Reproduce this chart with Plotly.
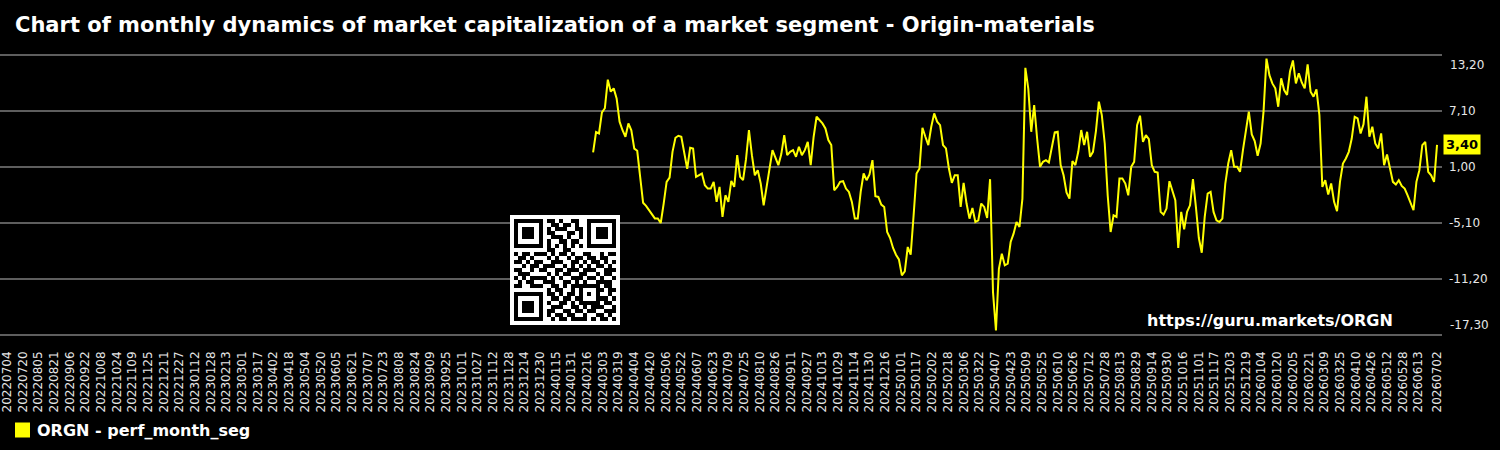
import base64
import pandas as pd
import plotly.graph_objects as go

# ---------------- data ----------------
title_text = "Chart of monthly dynamics of market capitalization of a market segment - Origin-materials"
series_name = "ORGN - perf_month_seg"
watermark = "https://guru.markets/ORGN"
last_label = "3,40"

axis_start = "2022-07-04"
axis_end = "2026-07-02"
series_start = "2024-02-22"
step_days = 3

values_2024 = [
    2.6, 4.8, 4.65, 6.94, 7.4, 10.5, 9.2, 9.56, 8.47, 5.93,
    5.0, 4.29, 5.74, 5.0, 3.0, 2.76, -0.08, -2.9, -3.24, -3.71,
    -4.08, -4.6, -4.6, -5.1, -2.98, -0.62, -0.15, 2.65, 4.18, 4.4,
    4.29, 2.29, 0.8, 3.1, 3.0, -0.08, 0.1, 0.29, -0.98, -1.35,
    -1.35, -0.62, -2.8, -1.17, -4.44, -2.08, -2.8, -0.51, -1.17, 2.3,
    -0.08, -0.44, 1.85, 5.02, 2.29, 0.1, 0.65, -0.8, -3.17, -0.98,
    0.83, 2.83, 1.93, 1.2, 2.4, 4.47, 2.29, 2.65, 2.83, 2.11,
    3.2, 2.29, 2.83, 3.74, 1.2, 4.29, 6.47, 6.11, 5.74, 5.2,
    3.93, 3.38, -1.53, -1.17, -0.62, -0.55, -1.35, -1.71, -2.8, -4.62,
    -4.62, -1.71, 0.29, -0.44, 0.18, 1.74, -2.18, -2.26, -3.09, -3.35,
    -6.08, -6.73, -7.82, -8.55, -9.06,
]
values_2025 = [
    -10.8, -10.37, -7.71, -8.55, -4.26, 0.29, 0.83, 5.27, 4.29, 3.38,
    5.38, 6.84, 5.93, 5.56, 3.38, 3.02, 0.83, -0.73, 0.1, 0.1,
    -3.35, -0.73, -2.98, -4.62, -3.46, -4.99, -4.8, -2.98, -3.35, -4.55,
    -0.33, -12.62, -16.8, -10.08, -8.44, -9.71, -9.53, -7.17, -6.26, -4.99,
    -5.53, -2.44, 11.8, 9.5, 4.83, 7.74, 4.1, 1.02, 1.56, 1.74,
    1.49, 3.2, 4.76, 4.83, 1.2, 0.1, -1.78, -2.44, 1.63, 1.2,
    2.65, 5.02, 3.38, 4.83, 2.11, 2.65, 4.91, 8.11, 6.65, 3.56,
    -2.08, -6.08, -4.26, -4.44, -0.26, -0.26, -0.8, -2.08, 1.02, 1.56,
    5.56, 6.58, 3.74, 4.47, 4.03, 1.2, 0.47, 0.4, -3.89, -4.18,
    -3.53, -0.55, -1.71, -2.62, -7.82, -3.89, -5.79, -3.89, -3.17, -0.33,
    -3.35, -6.73, -8.33, -4.44, -1.89, -1.71, -3.89, -4.8, -4.99, -4.62,
    -0.8, 1.38, 2.83, 1.02, 1.02, 0.47, 2.83, 4.83, 7.02, 4.54,
    3.82, 2.22,
]
values_2026 = [
    3.56, 7.02, 12.8, 11.0, 10.1, 9.56, 7.56, 10.65, 9.38, 8.84,
    11.4, 12.6, 10.1, 11.2, 10.2, 9.56, 12.18, 9.2, 8.65, 9.45,
    6.65, -1.17, -0.44, -2.0, -0.8, -2.8, -3.82, -0.62, 1.38, 1.93,
    2.65, 4.1, 6.47, 6.29, 4.65, 5.64, 8.65, 4.29, 5.38, 3.56,
    3.02, 4.65, 1.2, 2.36, 0.65, -0.62, -0.91, -0.44, -1.06, -1.35,
    -2.08, -2.98, -3.71, -0.62, 0.65, 3.38, 3.74, 0.47, 0.1, -0.62,
    3.4,
]

y_tick_values = [13.2, 7.1, 1.0, -5.1, -11.2, -17.3]
y_tick_labels = ["13,20", "7,10", "1,00", "-5,10", "-11,20", "-17,30"]

# QR code modules (decorative)
qr_rows = [
    "1111111011010011001111111",
    "1000001001101101001000001",
    "1011101010111001101011101",
    "1011101011000110101011101",
    "1011101001110100101011101",
    "1000001010011011001000001",
    "1111111010101010101111111",
    "0000000011001100000000000",
    "1011011101011010011001011",
    "0110100010100101101101100",
    "1101011001110011010110101",
    "0010110111001010101011010",
    "1100101100110111011100111",
    "0111000010101100110010110",
    "1010111101010011101101001",
    "0101100111001101010011110",
    "1100111001101011111110110",
    "0000000010110010100011011",
    "1111111011010110101010010",
    "1000001001101101100011101",
    "1011101010011010111110110",
    "1011101001110011010111001",
    "1011101011001101101100111",
    "1000001010110110010011010",
    "1111111001011011110101101",
]

# ---------------- build ----------------
values = values_2024 + values_2025 + values_2026
dates = pd.date_range(series_start, periods=len(values), freq=f"{step_days}D")

tick_dates = list(pd.date_range(axis_start, "2026-06-13", freq="16D")) + [pd.Timestamp(axis_end)]
tick_text = [d.strftime("%Y%m%d") for d in tick_dates]

W, H = 1500, 450
ml, mr, mt, mb = 0, 58, 54, 114
plot_w = W - ml - mr
plot_h = H - mt - mb
yellow = "#ffff00"
grid_color = "#5e5e5e"
label_color = "#e6e6e6"

fig = go.Figure()
fig.add_trace(go.Scatter(
    x=dates, y=values, mode="lines",
    line=dict(color=yellow, width=2),
    showlegend=False, hoverinfo="skip", name=series_name,
))

fig.update_layout(
    width=W, height=H,
    margin=dict(l=ml, r=mr, t=mt, b=mb, pad=0),
    paper_bgcolor="#000000", plot_bgcolor="#000000",
    font=dict(family="DejaVu Sans", color=label_color, size=12),
    title=dict(
        text=title_text, x=15 / W, xanchor="left", xref="container",
        y=1 - 25 / H, yanchor="middle", yref="container",
        font=dict(family="DejaVu Sans", size=21, color="#ffffff", weight="bold"),
    ),
    showlegend=False,
    xaxis=dict(
        type="date",
        range=["2022-06-26 21:00", "2026-07-07 02:00"],
        tickmode="array", tickvals=tick_dates, ticktext=tick_text,
        tickangle=-90, tickfont=dict(size=12, color=label_color),
        showgrid=False, zeroline=False, showline=False,
        ticks="", ticklabelstandoff=12, ticklabeloverflow="allow",
    ),
    yaxis=dict(
        side="right", range=[-17.4, 13.3],
        tickmode="array", tickvals=y_tick_values[1:-1],
        ticktext=y_tick_labels[1:-1],
        tickfont=dict(size=12, color=label_color),
        showgrid=True, gridcolor=grid_color, gridwidth=2,
        zeroline=False, showline=False, ticks="", ticklabelstandoff=6,
    ),
)

# edge gridlines and their labels (shifted inside the band)
for val, lab, shift in [(y_tick_values[0], y_tick_labels[0], -10), (y_tick_values[-1], y_tick_labels[-1], 10)]:
    fig.add_shape(type="line", xref="paper", yref="y", x0=0, x1=1, y0=val, y1=val,
                  line=dict(color=grid_color, width=2), layer="below")
    fig.add_annotation(xref="paper", yref="y", x=1, y=val, text=lab,
                       xanchor="left", yanchor="middle", xshift=6, yshift=shift, showarrow=False,
                       font=dict(size=12, color=label_color))

# last value badge
fig.add_annotation(xref="paper", yref="y", x=1, y=values[-1], text=f"<b>{last_label}</b>",
                   xanchor="left", yanchor="middle", xshift=1, showarrow=False,
                   bgcolor=yellow, borderpad=2,
                   font=dict(size=13, color="#000000", family="DejaVu Sans"))

# watermark
fig.add_annotation(xref="paper", yref="paper", x=1395 / plot_w, y=(mt + plot_h - 320) / plot_h,
                   text=watermark, xanchor="right", yanchor="middle", showarrow=False,
                   font=dict(size=16, color="#ffffff", family="DejaVu Sans", weight="bold"))

# legend (drawn manually: square swatch + bold label)
leg_y = 430
fig.add_shape(type="rect", xref="paper", yref="paper",
              x0=15 / plot_w, x1=30 / plot_w,
              y0=(mt + plot_h - (leg_y + 7.5)) / plot_h, y1=(mt + plot_h - (leg_y - 7.5)) / plot_h,
              fillcolor=yellow, line=dict(width=0))
fig.add_annotation(xref="paper", yref="paper", x=35 / plot_w, y=(mt + plot_h - leg_y) / plot_h,
                   text=series_name, xanchor="left", yanchor="middle", showarrow=False,
                   font=dict(size=16, color="#ffffff", family="DejaVu Sans", weight="bold"))

# QR image
n = len(qr_rows)
N = n + 2
rects = []
for r, row in enumerate(qr_rows):
    for c, ch in enumerate(row):
        if ch == "1":
            rects.append(f'<rect x="{c+1}" y="{r+1}" width="1" height="1"/>')
svg = (f'<svg xmlns="http://www.w3.org/2000/svg" width="{N*10}" height="{N*10}" viewBox="0 0 {N} {N}" '
       f'shape-rendering="crispEdges"><rect width="{N}" height="{N}" fill="#ffffff"/>'
       f'<g fill="#000000">{"".join(rects)}</g></svg>')
src = "data:image/svg+xml;base64," + base64.b64encode(svg.encode()).decode()
qr_left, qr_top, qr_size = 510, 215, 110
fig.add_layout_image(dict(
    source=src, xref="paper", yref="paper",
    x=(qr_left - ml) / plot_w, y=(mt + plot_h - qr_top) / plot_h,
    sizex=qr_size / plot_w, sizey=qr_size / plot_h,
    xanchor="left", yanchor="top", sizing="stretch", layer="above",
))

fig.write_html("out.html")
